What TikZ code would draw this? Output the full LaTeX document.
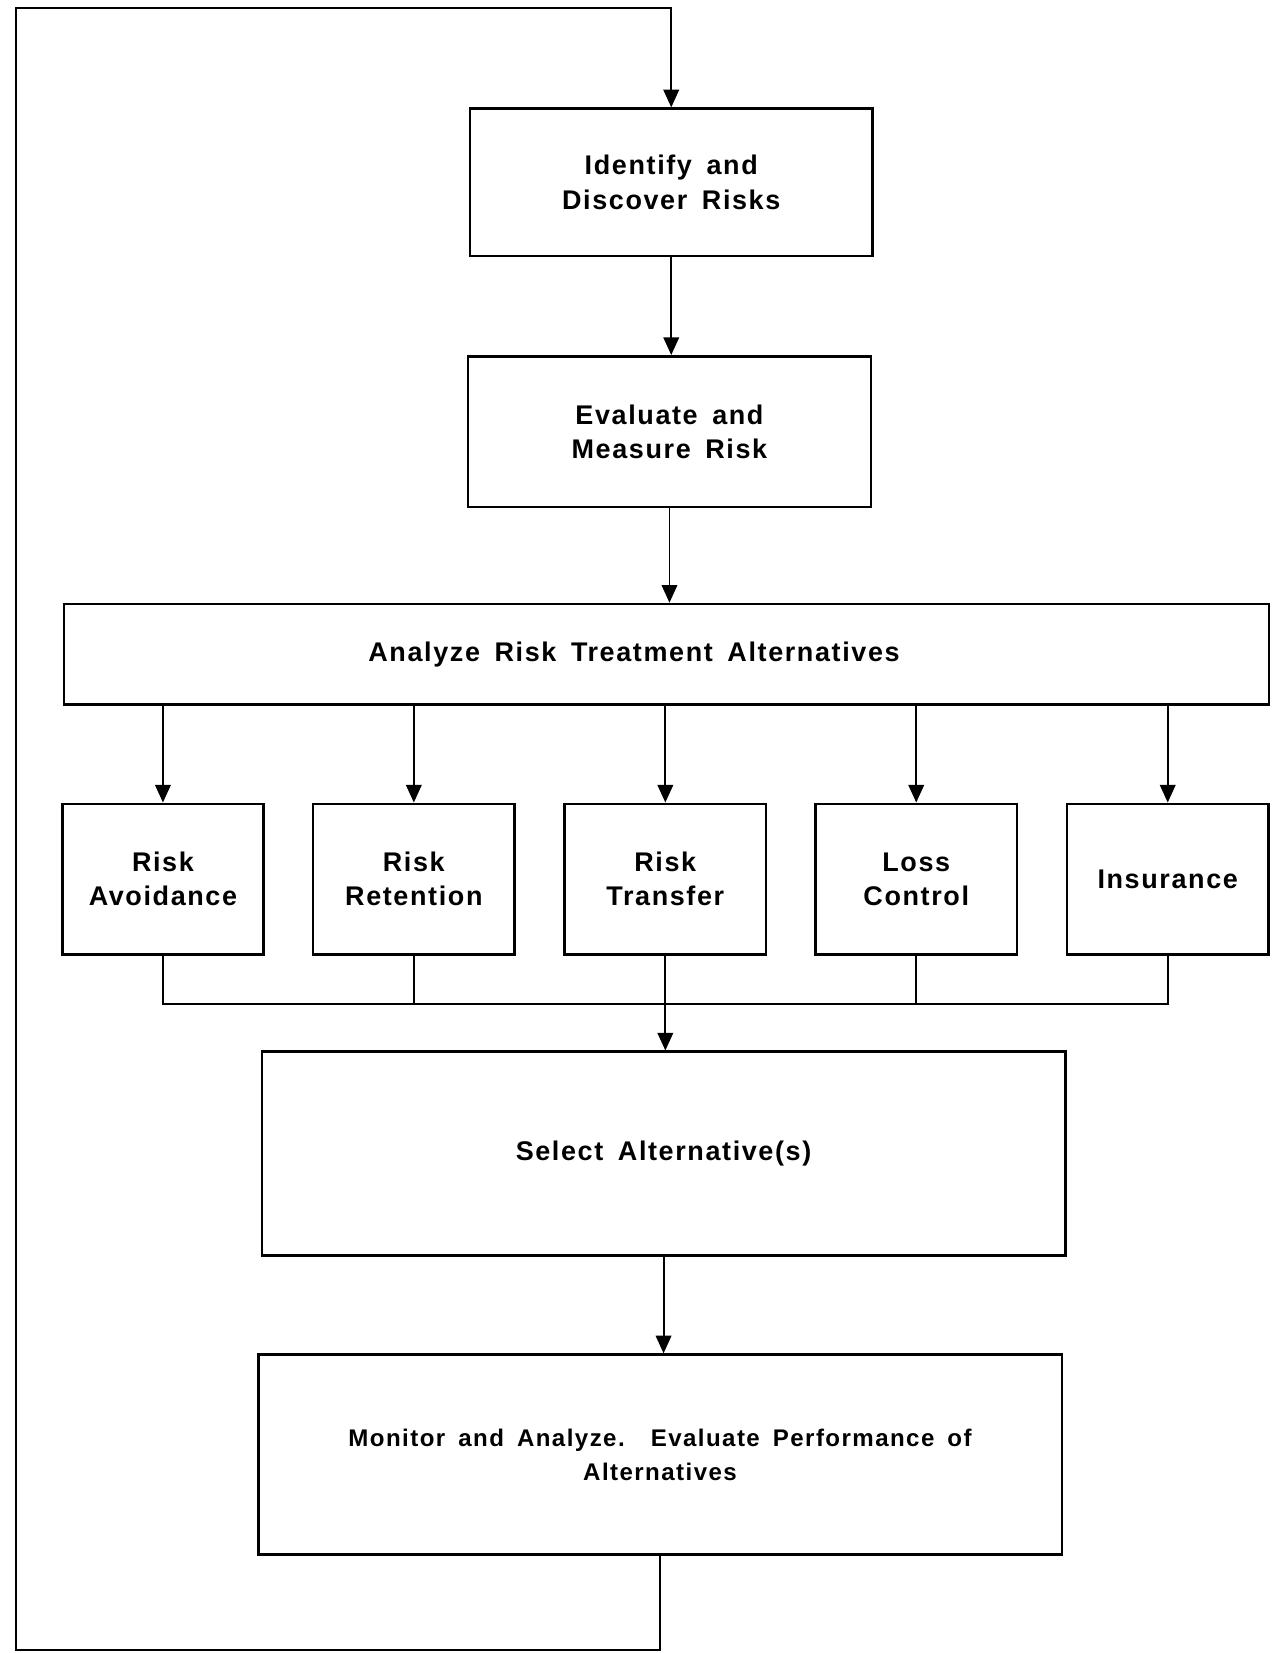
\documentclass[tikz,border=0pt]{standalone}
\usepackage{fontspec}
\setmainfont{Liberation Sans}
\newfontfamily\boxfont[LetterSpace=6,WordSpace=1.6]{Liberation Sans}
\usepackage{tikz}
\usetikzlibrary{arrows.meta, positioning, calc}

\tikzset{
    stagebox/.style={draw, line width=1.2pt, align=center, inner sep=0pt,
        font=\boxfont\fontsize{13}{16.5}\selectfont\bfseries},
    optbox/.style={stagebox, minimum width=3.41cm, minimum height=2.55cm},
    flow/.style={line width=0.9pt, -{Triangle[width=7.5pt,length=8.5pt]}},
    link/.style={line width=0.9pt}
}

\begin{document}
\begin{tikzpicture}
    \useasboundingbox (0,0) rectangle (21.59,-28.0);

    % Main stages
    \node[stagebox, minimum width=6.82cm, minimum height=2.5cm] (identify) at (11.37,-3.09) {Identify and\\Discover Risks};
    \node[stagebox, minimum width=6.82cm, minimum height=2.55cm] (evaluate) at (11.34,-7.31) {Evaluate and\\Measure Risk};
    \node[stagebox, minimum width=20.41cm, minimum height=1.70cm] (analyze) at (11.29,-11.08) {Analyze Risk Treatment Alternatives\hspace*{1.1cm}};

    % Treatment alternatives
    \node[optbox] (avoid)    at (2.76,-14.89)  {Risk\\Avoidance};
    \node[optbox] (retain)   at (7.01,-14.89)  {Risk\\Retention};
    \node[optbox] (transfer) at (11.27,-14.89) {Risk\\Transfer};
    \node[optbox] (lossctl)  at (15.52,-14.89) {Loss\\Control};
    \node[optbox] (insure)   at (19.78,-14.89) {Insurance};

    \node[stagebox, minimum width=13.61cm, minimum height=3.45cm] (select) at (11.24,-19.54) {Select Alternative(s)};
    \node[stagebox, minimum width=13.61cm, minimum height=3.39cm, font=\boxfont\fontsize{11.6}{16.5}\selectfont\bfseries] (monitor) at (11.18,-24.64) {Monitor and Analyze.\ \ Evaluate Performance of\\Alternatives};

    % Downward flow
    \draw[flow] (identify) -- (identify.south |- evaluate.north);
    \draw[flow] (evaluate) -- (evaluate.south |- analyze.north);
    \foreach \opt in {avoid, retain, transfer, lossctl, insure}
        \draw[flow] (analyze.south -| \opt.north) -- (\opt.north);

    % Collecting bus
    \coordinate (bus) at (0,-17.0);
    \draw[link] (avoid.south) -- (avoid.south |- bus) -- (insure.south |- bus) -- (insure.south);
    \draw[link] (retain.south) -- (retain.south |- bus);
    \draw[link] (lossctl.south) -- (lossctl.south |- bus);
    \draw[flow] (transfer.south) -- (transfer.south |- select.north);
    \draw[flow] (select) -- (select.south |- monitor.north);

    % Feedback loop
    \coordinate (loopBL) at (0.27,-27.95);
    \coordinate (loopTL) at (0.27,-0.14);
    \draw[flow] (monitor.south) |- (loopBL) -- (loopTL) -| (identify.north);
\end{tikzpicture}
\end{document}
